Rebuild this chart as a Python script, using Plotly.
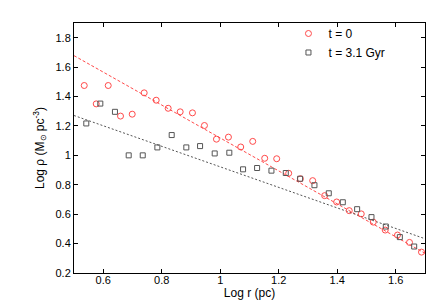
import plotly.graph_objects as go

# Red circles: t = 0
r0_x = [0.535, 0.576, 0.617, 0.659, 0.699, 0.740, 0.781, 0.822, 0.863, 0.905,
        0.946, 0.987, 1.028, 1.070, 1.111, 1.152, 1.193, 1.234, 1.274, 1.316,
        1.357, 1.398, 1.441, 1.482, 1.523, 1.564, 1.606, 1.647, 1.688]
r0_y = [1.475, 1.350, 1.475, 1.267, 1.280, 1.425, 1.375, 1.320, 1.296, 1.289,
        1.203, 1.110, 1.124, 1.057, 1.095, 0.980, 0.977, 0.878, 0.841, 0.828,
        0.726, 0.683, 0.624, 0.602, 0.546, 0.492, 0.458, 0.408, 0.342]

# Gray squares: t = 3.1 Gyr
r1_x = [0.542, 0.590, 0.640, 0.687, 0.735, 0.785, 0.834, 0.884, 0.931, 0.981,
        1.031, 1.078, 1.126, 1.175, 1.224, 1.273, 1.322, 1.371, 1.419, 1.468,
        1.517, 1.566, 1.614, 1.663]
r1_y = [1.217, 1.352, 1.296, 1.000, 1.000, 1.054, 1.138, 1.054, 1.063, 1.013,
        1.018, 0.905, 0.914, 0.896, 0.880, 0.841, 0.797, 0.742, 0.681, 0.634,
        0.580, 0.516, 0.444, 0.380]

# Fit lines (end points)
fit_x = [0.5, 1.7]
fit0_y = [1.678, 0.334]
fit1_y = [1.271, 0.433]

x_ticks = [0.6, 0.8, 1.0, 1.2, 1.4, 1.6]
x_labels = ["0.6", "0.8", "1", "1.2", "1.4", "1.6"]
y_ticks = [0.2, 0.4, 0.6, 0.8, 1.0, 1.2, 1.4, 1.6, 1.8]
y_labels = ["0.2", "0.4", "0.6", "0.8", "1", "1.2", "1.4", "1.6", "1.8"]

RED = "#ff4a4a"
GRAY = "#555555"
FONT = "Liberation Sans, Arial, sans-serif"

fig = go.Figure()
fig.add_trace(go.Scatter(x=fit_x, y=fit0_y, mode="lines", showlegend=False,
                         line=dict(color=RED, width=1, dash="3px,2px"),
                         hoverinfo="skip"))
fig.add_trace(go.Scatter(x=fit_x, y=fit1_y, mode="lines", showlegend=False,
                         line=dict(color=GRAY, width=1, dash="2px,2px"),
                         hoverinfo="skip"))
fig.add_trace(go.Scatter(x=r0_x, y=r0_y, mode="markers", name="t = 0",
                         marker=dict(symbol="circle-open", size=6, color=RED,
                                     line=dict(width=1, color=RED))))
fig.add_trace(go.Scatter(x=r1_x, y=r1_y, mode="markers", name="t = 3.1 Gyr",
                         marker=dict(symbol="square-open", size=5, color=GRAY,
                                     line=dict(width=1, color=GRAY))))

axis_common = dict(showline=True, linecolor="black", linewidth=1, mirror="allticks",
                   ticks="inside", ticklen=4, tickcolor="black", tickwidth=1,
                   showgrid=False, zeroline=False,
                   tickfont=dict(family=FONT, size=11, color="black"))

fig.update_xaxes(range=[0.5, 1.7], tickvals=x_ticks, ticktext=x_labels,
                 ticklabelstandoff=-3,
                 title=dict(text="Log r (pc)", font=dict(family=FONT, size=12, color="black"),
                            standoff=2),
                 **axis_common)
fig.update_yaxes(range=[0.2, 1.9], tickvals=y_ticks, ticktext=y_labels,
                 title=dict(text="Log ρ (M<sub>⊙</sub> pc<sup>-3</sup>)",
                            font=dict(family=FONT, size=12, color="black"),
                            standoff=8),
                 **axis_common)

fig.update_layout(
    width=436, height=305,
    margin=dict(l=66, r=19, t=14, b=40),
    paper_bgcolor="white", plot_bgcolor="white",
    font=dict(family=FONT, size=12, color="black"),
    legend=dict(x=0.611, y=1.012, xanchor="left", yanchor="top",
                bgcolor="rgba(0,0,0,0)", borderwidth=0,
                font=dict(family=FONT, size=12, color="black"),
                tracegroupgap=0),
)

fig.write_html("out.html")
